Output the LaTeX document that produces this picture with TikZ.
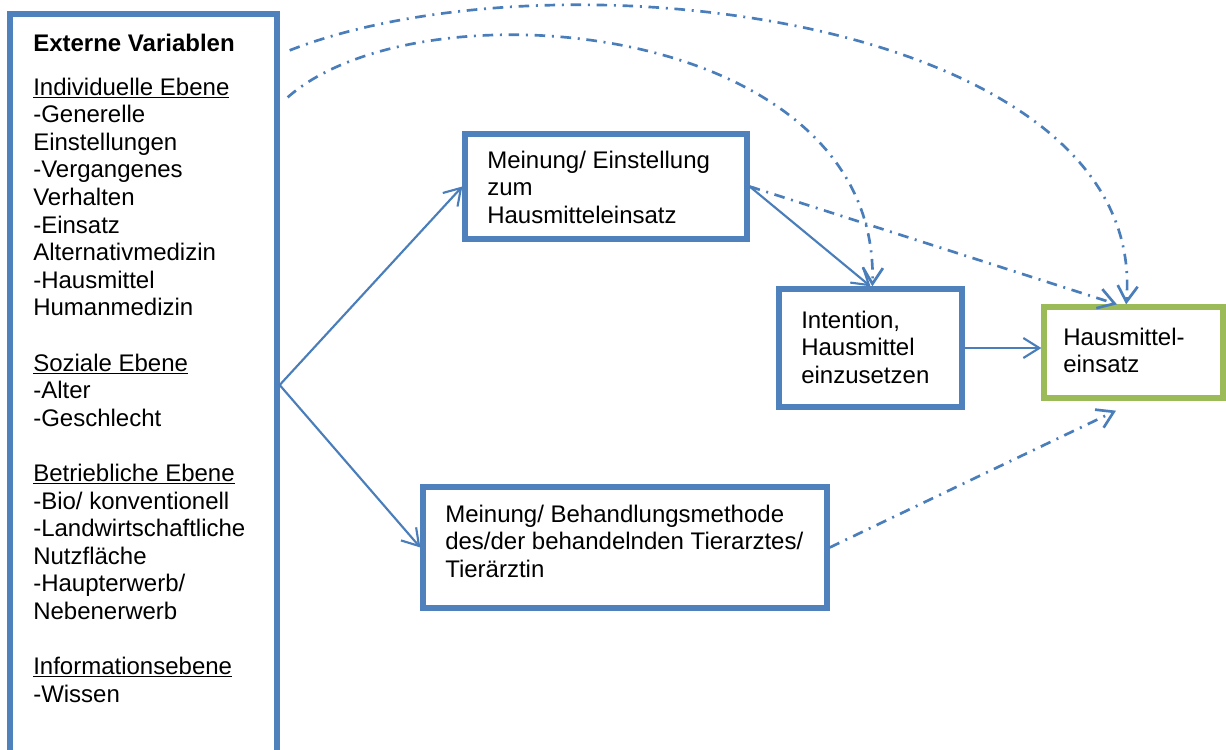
\documentclass[tikz,border=0pt]{standalone}
\usepackage{fontspec}
\setmainfont{Liberation Sans}
\usetikzlibrary{arrows.meta,fit,calc}
\definecolor{boxblue}{HTML}{4F81BD}
\definecolor{boxgreen}{HTML}{9BBB59}
\definecolor{linkblue}{HTML}{4A7EBB}
\newcommand{\mlines}[1]{\parbox[t]{320pt}{\raggedright\fontsize{18}{20.7}\selectfont #1}}
\begin{document}
\begin{tikzpicture}[x=0.75pt,y=-0.75pt,
  frame/.style={draw=boxblue,line width=4pt,inner sep=0pt,fill=white},
  gframe/.style={frame,draw=boxgreen},
  txt/.style={anchor=base west,inner sep=0pt,font=\fontsize{18}{20.7}\selectfont},
  conn/.style={draw=linkblue,line width=1.6pt,-{Straight Barb[length=12pt,width=15pt]}},
  dconn/.style={conn,line width=2pt,dash pattern=on 8pt off 5pt on 1.5pt off 5pt}]
\useasboundingbox (0,0) rectangle (1226,749);
\clip (0,0) rectangle (1226,749);
\fill[white] (0,0) rectangle (1226,749);
% boxes
\node[frame,fit={(10,14) (277,756)}] (L) {};
\node[frame,fit={(465,134) (747,239)}] (A) {};
\node[frame,fit={(779,289) (962,407)}] (B) {};
\node[gframe,fit={(1044,307) (1223,398)}] (C) {};
\node[frame,fit={(423,487) (827,608)}] (D) {};
% texts
\node[txt] (ev) at (33,52) {\bfseries Externe Variablen};
\node[txt] (evl) at (33,95) {\mlines{\underline{Individuelle Ebene}\\
-Generelle\\ Einstellungen\\ -Vergangenes\\ Verhalten\\ -Einsatz\\ Alternativmedizin\\ -Hausmittel\\ Humanmedizin\\[20.7pt]
\underline{Soziale Ebene}\\ -Alter\\ -Geschlecht\\[20.7pt]
\underline{Betriebliche Ebene}\\ -Bio/ konventionell\\ -Landwirtschaftliche\\ Nutzfläche\\ -Haupterwerb/\\ Nebenerwerb\\[20.7pt]
\underline{Informationsebene}\\ -Wissen}};
\node[txt] (ta) at (487,168) {\mlines{Meinung/ Einstellung\\ zum\\ Hausmitteleinsatz}};
\node[txt] (tb) at (801,328) {\mlines{Intention,\\ Hausmittel\\ einzusetzen}};
\node[txt] (tc) at (1063,345) {\mlines{Hausmittel-\\ einsatz}};
\node[txt] (td) at (445,522) {\mlines{Meinung/ Behandlungsmethode\\ des/der behandelnden Tierarztes/\\ Tierärztin}};
% connectors
\draw[conn] (L.east) -- (A.west);
\draw[conn] (L.east) -- (D.west);
\draw[conn] (A.east) -- (B.north);
\draw[conn] (B.east) -- (B.east -| C.west);
\coordinate (eA) at ($(C.north west)!0.41!(C.north east)$);
\draw[dconn] (A.east) -- (eA);
\coordinate (eD) at ($(C.south west)!0.405!(C.south east)+(0,10)$);
\draw[dconn] (D.east) -- (eD);
\coordinate (s1) at ($(L.north east)+(10,39)$);
\coordinate (s2) at ($(L.north east)+(8,86)$);
\coordinate (e1) at ($(C.north west)!0.46!(C.north east)$);
\coordinate (e2) at ($(B.north west)!0.51!(B.north east)$);
\draw[dconn] (s1) .. controls (560,-55) and (1150,20) .. (e1);
\draw[dconn] (s2) .. controls (420,-20) and (880,20) .. (e2);
\end{tikzpicture}
\end{document}
